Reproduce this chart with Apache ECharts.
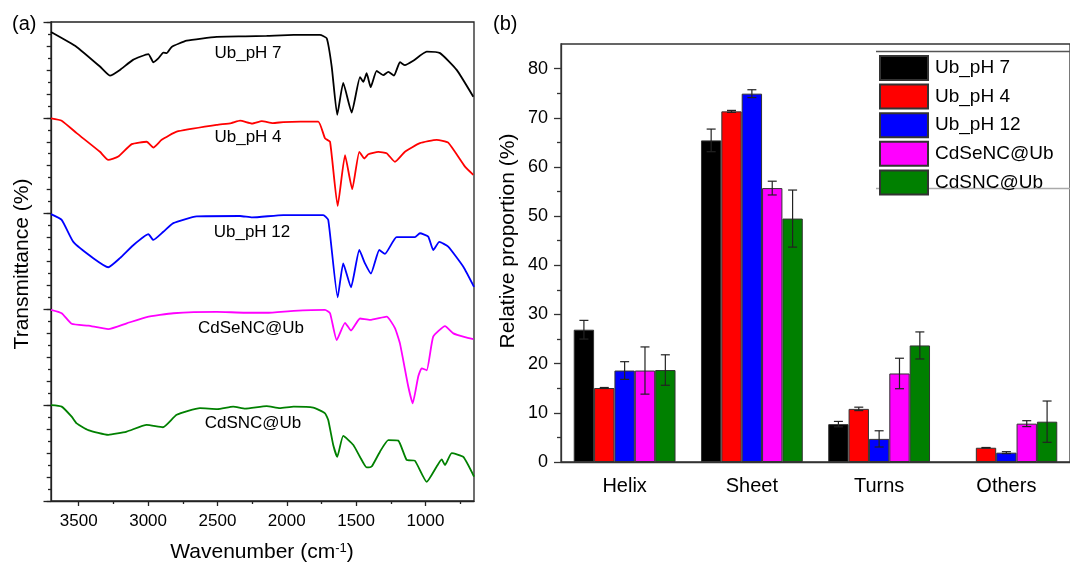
<!DOCTYPE html>
<html>
<head>
<meta charset="utf-8">
<script src="https://cdn.jsdelivr.net/npm/echarts@6/dist/echarts.min.js"></script>
<style>
  html, body { margin: 0; padding: 0; background: #fff; }
  #chart { width: 1070px; height: 563px; }
</style>
</head>
<body>
<div id="chart"></div>
<script>
// (a) FTIR spectra: [wavenumber, transmittance (a.u., stacked)]
const ubPH7 = [[3700, 97.9], [3515, 94.8], [3347, 90.7], [3275, 88.8], [3203, 90.0], [3109, 92.1], [2998, 93.3], [2962, 91.6],
  [2926, 92.4], [2890, 93.6], [2866, 93.5], [2830, 94.8], [2722, 96.1], [2505, 96.9], [2300, 97.0], [2145, 97.1], [1950, 97.3],
  [1761, 97.3], [1712, 96.6], [1676, 90.7], [1636, 80.6], [1593, 87.3], [1532, 81.1], [1472, 88.5], [1448, 87.5], [1424, 89.3],
  [1395, 86.4], [1352, 89.8], [1304, 88.9], [1268, 89.6], [1227, 88.8], [1184, 91.6], [1148, 91.0], [1088, 91.9], [991, 93.8],
  [895, 93.5], [775, 90.0], [655, 84.4]];
const ubPH4 = [[3700, 79.9], [3623, 79.4], [3515, 76.8], [3347, 72.9], [3287, 71.2], [3215, 71.9], [3118, 74.5], [3010, 75.0],
  [2962, 73.8], [2902, 75.4], [2794, 77.1], [2505, 78.5], [2400, 78.9], [2337, 79.4], [2250, 78.8], [2180, 79.3], [2100, 78.9],
  [2025, 79.1], [1900, 79.2], [1773, 79.2], [1724, 75.7], [1688, 75.0], [1633, 61.6], [1580, 72.2], [1528, 65.1], [1477, 72.9],
  [1441, 71.5], [1412, 72.4], [1340, 72.9], [1280, 72.6], [1220, 70.8], [1148, 72.9], [1040, 74.7], [919, 75.4], [836, 74.8],
  [715, 69.8], [655, 68.1]];
const ubPH12 = [[3700, 59.9], [3623, 58.7], [3539, 54.1], [3395, 50.7], [3287, 48.8], [3203, 50.7], [3107, 53.4], [2998, 55.7],
  [2962, 54.5], [2890, 56.2], [2818, 58.0], [2650, 59.4], [2337, 59.5], [2250, 59.2], [2025, 59.7], [1737, 59.7], [1701, 58.7],
  [1633, 42.5], [1593, 49.6], [1537, 44.6], [1477, 52.4], [1436, 49.6], [1393, 47.5], [1333, 52.4], [1292, 51.6], [1208, 55.1],
  [1076, 55.1], [1040, 55.9], [980, 55.2], [944, 52.4], [900, 54.1], [836, 53.1], [727, 48.9], [650, 44.7]];
const cdseUb = [[3700, 39.9], [3623, 39.2], [3551, 37.0], [3431, 36.6], [3287, 35.9], [3154, 37.1], [3010, 38.4], [2818, 39.2],
  [2505, 39.5], [2300, 39.3], [2145, 39.3], [1950, 39.7], [1724, 39.9], [1688, 39.2], [1640, 33.6], [1580, 37.2], [1537, 35.6],
  [1472, 38.1], [1400, 37.8], [1280, 38.5], [1220, 36.1], [1184, 32.9], [1124, 23.9], [1092, 20.4], [1052, 26.0], [1027, 27.7],
  [991, 27.3], [944, 34.3], [859, 36.5], [799, 35.0], [715, 34.2], [655, 33.8]];
const cdsUb = [[3700, 20.0], [3623, 19.7], [3551, 17.6], [3515, 16.2], [3431, 14.8], [3287, 13.8], [3154, 14.5], [3010, 15.9],
  [2893, 15.4], [2794, 18.0], [2626, 19.4], [2500, 19.2], [2386, 19.7], [2300, 19.3], [2145, 19.8], [2050, 19.4], [1950, 19.7],
  [1809, 19.5], [1724, 18.3], [1701, 16.9], [1665, 11.7], [1636, 9.2], [1593, 13.6], [1520, 11.7], [1472, 9.2], [1424, 7.0],
  [1388, 7.2], [1328, 10.3], [1268, 12.7], [1196, 12.6], [1136, 8.6], [1076, 8.4], [991, 4.0], [919, 7.2], [883, 8.7],
  [859, 7.5], [811, 10.0], [727, 9.2], [650, 5.1]];
const wnMajor = [1000, 1500, 2000, 2500, 3000, 3500];
const wnMinor = [750, 1250, 1750, 2250, 2750, 3250];

// (b) secondary structure (%)
const structures = ['Helix', 'Sheet', 'Turns', 'Others'];
const sampleNames = ['Ub_pH 7', 'Ub_pH 4', 'Ub_pH 12', 'CdSeNC@Ub', 'CdSNC@Ub'];
const propPH7 = [26.9, 65.4, 7.7, null];
const propPH4 = [15.05, 71.3, 10.8, 2.9];
const propPH12 = [18.6, 74.9, 4.7, 1.9];
const propCdSe = [18.6, 55.7, 18.0, 7.8];
const propCdS = [18.7, 49.5, 23.7, 8.2];
const errPH7 = [1.9, 2.3, 0.55, null];
const errPH4 = [0.1, 0.2, 0.35, 0.05];
const errPH12 = [1.8, 0.8, 1.65, 0.2];
const errCdSe = [4.8, 1.4, 3.1, 0.6];
const errCdS = [3.1, 5.8, 2.75, 4.2];
const propTicks = [0, 10, 20, 30, 40, 50, 60, 70, 80];

const colors = ['#000000', '#ff0000', '#0000ff', '#ff00ff', '#008000'];
const FONT = '"Liberation Sans", Arial, sans-serif';

const spectra = [ubPH7, ubPH4, ubPH12, cdseUb, cdsUb];
const props = [propPH7, propPH4, propPH12, propCdSe, propCdS];
const errs = [errPH7, errPH4, errPH12, errCdSe, errCdS];

// error bar items: [category, sample, low, high]
const errData = [];
props.forEach((p, k) => {
  p.forEach((v, c) => {
    if (v != null && errs[k][c] != null) errData.push([c, k, v - errs[k][c], v + errs[k][c]]);
  });
});

const chart = echarts.init(document.getElementById('chart'));

const axisLineStyle = { color: '#222', width: 1.3 };
const barAxisStyle = { color: '#333', width: 1.3 };

let option = {
  animation: false,
  textStyle: { fontFamily: FONT },
  grid: [
    { left: 51, right: 596, top: 22, bottom: 62, show: true, borderColor: '#222', borderWidth: 1.3 },
    { left: 561, right: -8, top: 44, bottom: 101, show: true, borderColor: '#333', borderWidth: 1.3 }
  ],
  xAxis: [
    {
      gridIndex: 0, type: 'value', position: 'bottom', min: 650, max: 3700, inverse: true,
      axisLine: { lineStyle: axisLineStyle },
      axisTick: { customValues: wnMajor, length: 5, lineStyle: axisLineStyle },
      axisLabel: { customValues: wnMajor, fontSize: 17, color: '#000', margin: 12, fontFamily: FONT,
        formatter: v => String(v) },
      splitLine: { show: false }
    },
    {
      gridIndex: 0, type: 'value', position: 'bottom', min: 650, max: 3700, inverse: true,
      axisLine: { show: false },
      axisTick: { customValues: wnMinor, length: 3, lineStyle: axisLineStyle },
      axisLabel: { show: false },
      splitLine: { show: false }
    },
    {
      gridIndex: 1, type: 'category', position: 'bottom', data: structures,
      axisLine: { lineStyle: barAxisStyle },
      axisTick: { alignWithLabel: true, length: 7, lineStyle: barAxisStyle },
      axisLabel: { fontSize: 20, color: '#000', margin: 14, fontFamily: FONT }
    },
    {
      gridIndex: 1, type: 'category', position: 'bottom', data: structures,
      axisLine: { show: false },
      axisTick: { length: 3.5, lineStyle: barAxisStyle },
      axisLabel: { show: false }
    }
  ],
  yAxis: [
    {
      gridIndex: 0, type: 'value', position: 'left', min: 0, max: 100, interval: 5,
      axisLine: { show: true, lineStyle: axisLineStyle },
      axisTick: { show: true, length: 4.3, lineStyle: axisLineStyle },
      minorTick: { show: true, splitNumber: 2, length: 3, lineStyle: axisLineStyle },
      axisLabel: { show: false },
      splitLine: { show: false }
    },
    {
      gridIndex: 0, type: 'value', position: 'left', min: 0, max: 100, interval: 20,
      axisLine: { show: false },
      axisTick: { show: true, length: 7.5, lineStyle: axisLineStyle },
      axisLabel: { show: false },
      splitLine: { show: false }
    },
    {
      gridIndex: 1, type: 'value', position: 'left', min: 0, max: 85, interval: 10,
      axisLine: { show: true, lineStyle: barAxisStyle },
      axisTick: { show: true, customValues: propTicks, length: 7, lineStyle: barAxisStyle },
      minorTick: { show: true, splitNumber: 2, length: 4, lineStyle: barAxisStyle },
      axisLabel: { customValues: propTicks, fontSize: 18, color: '#000', margin: 13, fontFamily: FONT },
      splitLine: { show: false }
    }
  ],
  legend: {
    data: sampleNames,
    orient: 'vertical',
    left: 879, top: 55,
    itemWidth: 48, itemHeight: 24, itemGap: 2.6,
    icon: 'rect',
    padding: 0,
    textStyle: { fontSize: 19, color: '#000', fontFamily: FONT, padding: [0, 0, 0, 2] }
  },
  graphic: [
    { type: 'text', left: 12, top: 14, style: { text: '(a)', fill: '#000', font: '20px ' + FONT } },
    { type: 'text', left: 493, top: 14, style: { text: '(b)', fill: '#000', font: '20px ' + FONT } },
    { type: 'text', x: 22, y: 264, rotation: Math.PI / 2,
      style: { text: 'Transmittance (%)', font: '21px ' + FONT, fill: '#000', align: 'center', verticalAlign: 'middle' } },
    { type: 'text', x: 508, y: 241, rotation: Math.PI / 2,
      style: { text: 'Relative proportion (%)', font: '21px ' + FONT, fill: '#000', align: 'center', verticalAlign: 'middle' } },
    { type: 'text', x: 262, y: 552,
      style: {
        text: 'Wavenumber (cm{sup|-1})', font: '21px ' + FONT, fill: '#000', align: 'center', verticalAlign: 'middle',
        rich: { sup: { font: '13px ' + FONT, verticalAlign: 'top', lineHeight: 13, fill: '#000' } }
      } },
    { type: 'text', x: 248, y: 53, style: { text: 'Ub_pH 7', font: '17px ' + FONT, fill: '#000', align: 'center', verticalAlign: 'middle' } },
    { type: 'text', x: 248, y: 137, style: { text: 'Ub_pH 4', font: '17px ' + FONT, fill: '#000', align: 'center', verticalAlign: 'middle' } },
    { type: 'text', x: 252, y: 232, style: { text: 'Ub_pH 12', font: '17px ' + FONT, fill: '#000', align: 'center', verticalAlign: 'middle' } },
    { type: 'text', x: 251, y: 328, style: { text: 'CdSeNC@Ub', font: '17px ' + FONT, fill: '#000', align: 'center', verticalAlign: 'middle' } },
    { type: 'text', x: 253, y: 423, style: { text: 'CdSNC@Ub', font: '17px ' + FONT, fill: '#000', align: 'center', verticalAlign: 'middle' } },
    // legend frame lines
    { type: 'line', shape: { x1: 876, y1: 51.5, x2: 1070, y2: 51.5 }, style: { stroke: '#555', lineWidth: 1.3 } },
    { type: 'line', shape: { x1: 876, y1: 188.5, x2: 1070, y2: 188.5 }, style: { stroke: '#aaa', lineWidth: 1.3 } }
  ],
  series: []
};

// spectra
spectra.forEach((d, k) => {
  option.series.push({
    name: sampleNames[k] + ' (FTIR)',
    type: 'line',
    xAxisIndex: 0, yAxisIndex: 0,
    data: d,
    showSymbol: false,
    smooth: 0.15,
    lineStyle: { color: colors[k], width: 1.8 },
    itemStyle: { color: colors[k] }
  });
});

// bars
props.forEach((p, k) => {
  option.series.push({
    name: sampleNames[k],
    type: 'bar',
    xAxisIndex: 2, yAxisIndex: 2,
    data: p,
    barGap: 0,
    barCategoryGap: '20%',
    itemStyle: { color: colors[k], borderColor: '#333', borderWidth: 1 }
  });
});

// error bars
option.series.push({
  type: 'custom',
  xAxisIndex: 2, yAxisIndex: 2,
  data: errData,
  z: 10,
  renderItem: function (params, api) {
    const cat = api.value(0);
    const k = api.value(1);
    const band = api.size([1, 0])[0];
    const bw = band * 0.8 / 5;
    const x = api.coord([cat, 0])[0] + (k - 2) * bw;
    const yLo = api.coord([cat, api.value(2)])[1];
    const yHi = api.coord([cat, api.value(3)])[1];
    const cap = 4.5;
    const style = { stroke: '#222', lineWidth: 1.2 };
    return {
      type: 'group',
      children: [
        { type: 'line', shape: { x1: x, y1: yLo, x2: x, y2: yHi }, style: style },
        { type: 'line', shape: { x1: x - cap, y1: yHi, x2: x + cap, y2: yHi }, style: style },
        { type: 'line', shape: { x1: x - cap, y1: yLo, x2: x + cap, y2: yLo }, style: style }
      ]
    };
  }
});

chart.setOption(option);
</script>
</body>
</html>
